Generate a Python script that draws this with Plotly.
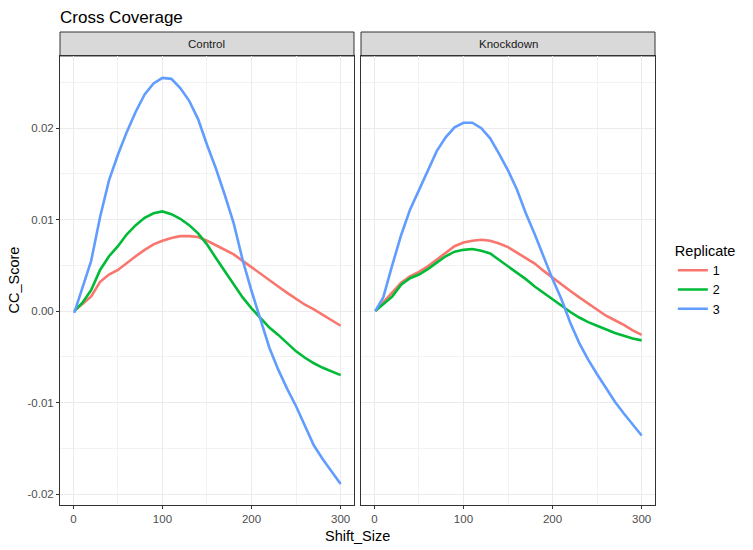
import plotly.graph_objects as go

# shift sizes (x) shared by every series
shift_size = [1, 10, 20, 30, 40, 50, 60, 70, 80, 90, 100, 110, 120, 130, 140, 150,
              160, 170, 180, 190, 200, 210, 220, 230, 240, 250, 260, 270, 280, 290, 300]

# Control panel, one list per replicate
control_rep1 = [0.0000, 0.0008, 0.0016, 0.0032, 0.0040, 0.0045, 0.0053, 0.0060, 0.0067, 0.0073,
                0.0077, 0.0080, 0.0082, 0.0082, 0.0081, 0.0077, 0.0072, 0.0067, 0.0062, 0.0055,
                0.0048, 0.0042, 0.0034, 0.0027, 0.0020, 0.0013, 0.0007, 0.0002, -0.0004, -0.0010,
                -0.0016]
control_rep2 = [0.0000, 0.0009, 0.0023, 0.0045, 0.0060, 0.0071, 0.0084, 0.0094, 0.0102, 0.0107,
                0.0109, 0.0106, 0.0101, 0.0094, 0.0085, 0.0073, 0.0058, 0.0044, 0.0029, 0.0015,
                0.0003, -0.0008, -0.0018, -0.0026, -0.0035, -0.0044, -0.0051, -0.0057, -0.0062,
                -0.0066, -0.0070]
control_rep3 = [-0.0002, 0.0024, 0.0055, 0.0103, 0.0143, 0.0171, 0.0196, 0.0218, 0.0237, 0.0249,
                0.0255, 0.0254, 0.0244, 0.0230, 0.0210, 0.0182, 0.0156, 0.0127, 0.0096, 0.0056,
                0.0022, -0.0009, -0.0040, -0.0064, -0.0085, -0.0104, -0.0126, -0.0147, -0.0162,
                -0.0176, -0.0189]

# Knockdown panel
knockdown_rep1 = [0.0000, 0.0010, 0.0020, 0.0031, 0.0038, 0.0043, 0.0049, 0.0056, 0.0064, 0.0071,
                  0.0075, 0.0077, 0.0078, 0.0077, 0.0074, 0.0070, 0.0064, 0.0058, 0.0052, 0.0044,
                  0.0037, 0.0030, 0.0022, 0.0015, 0.0008, 0.0001, -0.0005, -0.0010, -0.0015,
                  -0.0021, -0.0026]
knockdown_rep2 = [0.0000, 0.0008, 0.0016, 0.0029, 0.0036, 0.0040, 0.0046, 0.0053, 0.0060, 0.0065,
                  0.0067, 0.0068, 0.0066, 0.0063, 0.0056, 0.0050, 0.0043, 0.0035, 0.0027, 0.0020,
                  0.0013, 0.0006, -0.0001, -0.0007, -0.0012, -0.0016, -0.0020, -0.0024, -0.0027,
                  -0.0030, -0.0032]
knockdown_rep3 = [0.0000, 0.0015, 0.0050, 0.0083, 0.0111, 0.0133, 0.0153, 0.0175, 0.0190, 0.0201,
                  0.0206, 0.0206, 0.0200, 0.0189, 0.0172, 0.0154, 0.0133, 0.0107, 0.0084, 0.0059,
                  0.0035, 0.0013, -0.0013, -0.0035, -0.0053, -0.0069, -0.0084, -0.0099, -0.0112,
                  -0.0124, -0.0136]

replicates = ['1', '2', '3']
colors = ['#F8766D', '#00BA38', '#619CFF']
panels = ['Control', 'Knockdown']

x_ticks = [0, 100, 200, 300]
y_ticks = [-0.02, -0.01, 0.0, 0.01, 0.02]
y_tick_labels = ['-0.02', '-0.01', '0.00', '0.01', '0.02']

FONT = 'Liberation Sans, Arial, sans-serif'
panel_series = [[control_rep1, control_rep2, control_rep3],
                [knockdown_rep1, knockdown_rep2, knockdown_rep3]]

fig = go.Figure()
for p, series in enumerate(panel_series):
    for i, values in enumerate(series):
        fig.add_trace(go.Scatter(
            x=shift_size, y=values, mode='lines',
            name=replicates[i], legendgroup=replicates[i], showlegend=(p == 0),
            line=dict(color=colors[i], width=2.6),
            xaxis='x' if p == 0 else 'x2', yaxis='y' if p == 0 else 'y2'))

panel_top = 0.9493
x_domains = [[0, 0.4941], [0.5059, 1]]

axis_common = dict(range=[-15, 315], tickvals=x_ticks, ticks='outside', ticklen=3,
                   tickcolor='#333333', tickwidth=1, showline=True, linecolor='#333333',
                   linewidth=1, mirror=True, showgrid=True, gridcolor='#EBEBEB', gridwidth=1.1,
                   zeroline=False, tickfont=dict(size=11.5, color='#4D4D4D', family=FONT),
                   minor=dict(dtick=50, tick0=0, showgrid=True, gridcolor='#F2F2F2', gridwidth=0.6))
y_common = dict(range=[-0.0212, 0.0279], tickvals=y_ticks, ticktext=y_tick_labels,
                showline=True, linecolor='#333333', linewidth=1, mirror=True,
                showgrid=True, gridcolor='#EBEBEB', gridwidth=1.1, zeroline=False,
                tickfont=dict(size=11.5, color='#4D4D4D', family=FONT),
                minor=dict(dtick=0.005, tick0=0, showgrid=True, gridcolor='#F2F2F2', gridwidth=0.6),
                domain=[0, panel_top])

fig.update_layout(
    width=753, height=550,
    margin=dict(l=60, r=98, t=32, b=45),
    paper_bgcolor='white', plot_bgcolor='white',
    font=dict(family=FONT, color='#1A1A1A'),
    title=dict(text='Cross Coverage', x=60 / 753, xanchor='left', y=1 - 17 / 550, yanchor='middle',
               font=dict(size=17, color='black', family=FONT)),
    xaxis=dict(domain=x_domains[0], anchor='y', **axis_common),
    xaxis2=dict(domain=x_domains[1], anchor='y2', **axis_common),
    yaxis=dict(anchor='x', ticks='outside', ticklen=3, tickcolor='#333333', tickwidth=1, **y_common),
    yaxis2=dict(anchor='x2', matches='y', ticks='', showticklabels=False, **y_common),
    legend=dict(title=dict(text='Replicate', font=dict(size=14.5, color='black', family=FONT)),
                x=1.03, xanchor='left', y=0.475, yanchor='middle',
                font=dict(size=12.5, color='black', family=FONT), itemwidth=30,
                tracegroupgap=0, bgcolor='rgba(0,0,0,0)'),
)

# facet strips
for p, name in enumerate(panels):
    fig.add_shape(type='rect', xref='paper', yref='paper',
                  x0=x_domains[p][0], x1=x_domains[p][1], y0=panel_top, y1=1,
                  fillcolor='#D9D9D9', line=dict(color='#333333', width=1), layer='below')
    fig.add_annotation(text=name, xref='paper', yref='paper',
                       x=(x_domains[p][0] + x_domains[p][1]) / 2, y=(panel_top + 1) / 2,
                       showarrow=False, xanchor='center', yanchor='middle',
                       font=dict(size=11.5, color='#1A1A1A', family=FONT))

# axis titles
fig.add_annotation(text='Shift_Size', xref='paper', yref='paper', x=0.5, y=-0.066,
                   showarrow=False, xanchor='center', yanchor='middle',
                   font=dict(size=14.5, color='black', family=FONT))
fig.add_annotation(text='CC_Score', xref='paper', yref='paper', x=-0.077, y=0.475,
                   showarrow=False, textangle=-90, xanchor='center', yanchor='middle',
                   font=dict(size=14.5, color='black', family=FONT))

# the page body has an 8px default margin; drop it so the figure sits at the corner
fig.write_html("out.html", config={'displayModeBar': False},
               post_script="document.body.style.margin='0';")
